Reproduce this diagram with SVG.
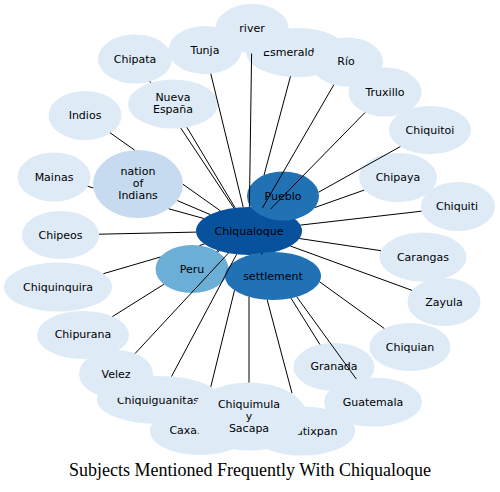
<svg xmlns="http://www.w3.org/2000/svg" width="500" height="492" viewBox="0 0 500 492">
<style>
.n ellipse{fill:#deebf7}
text{font-family:"DejaVu Sans","Liberation Sans",sans-serif;font-size:11px;text-anchor:middle;fill:#000}
.t{font-family:"Liberation Serif","Times New Roman",serif;font-size:18px}
#edges line{stroke:#000;stroke-width:1}
</style>
<rect width="500" height="492" fill="#fff"/>
<g id="nodes">
<g id="n-esmeraldas" class="n"><ellipse cx="297" cy="52.5" rx="50.7" ry="24.5"/><text x="295" y="56">Esmeraldas</text></g>
<g id="n-river" class="n"><ellipse cx="252" cy="28.5" rx="36.5" ry="24.5"/><text x="252" y="32">river</text></g>
<g id="n-tunja" class="n"><ellipse cx="205" cy="50" rx="36.5" ry="24"/><text x="205" y="53.5">Tunja</text></g>
<g id="n-chipata" class="n"><ellipse cx="135" cy="59" rx="37" ry="24.5"/><text x="135" y="63">Chipata</text></g>
<g id="n-rio" class="n"><ellipse cx="347" cy="62" rx="36" ry="24.5"/><text x="346" y="65">Río</text></g>
<g id="n-truxillo" class="n"><ellipse cx="385" cy="92" rx="36.5" ry="24.5"/><text x="385" y="95.5">Truxillo</text></g>
<g id="n-chiquitoi" class="n"><ellipse cx="430" cy="130" rx="41" ry="24"/><text x="430" y="133.5">Chiquitoi</text></g>
<g id="n-chipaya" class="n"><ellipse cx="398" cy="177.5" rx="39" ry="24.5"/><text x="398" y="181">Chipaya</text></g>
<g id="n-chiquiti" class="n"><ellipse cx="458" cy="206.5" rx="37" ry="24.5"/><text x="457" y="210">Chiquiti</text></g>
<g id="n-carangas" class="n"><ellipse cx="423" cy="257" rx="43.5" ry="24.5"/><text x="423" y="260.5">Carangas</text></g>
<g id="n-zayula" class="n"><ellipse cx="444" cy="302" rx="36.5" ry="24"/><text x="444" y="305.5">Zayula</text></g>
<g id="n-chiquian" class="n"><ellipse cx="410" cy="347" rx="40.5" ry="24"/><text x="410" y="350.5">Chiquian</text></g>
<g id="n-granada" class="n"><ellipse cx="334" cy="367" rx="40.5" ry="24"/><text x="334" y="370">Granada</text></g>
<g id="n-guatemala" class="n"><ellipse cx="373" cy="402" rx="49" ry="24.5"/><text x="373" y="405.5">Guatemala</text></g>
<g id="n-chiquiguanitas" class="n"><ellipse cx="159" cy="400" rx="62" ry="24"/><text x="158" y="403.5">Chiquiguanitas</text></g>
<g id="n-caxamarca" class="n"><ellipse cx="200" cy="431" rx="50" ry="24"/><text x="200.5" y="434">Caxamarca</text></g>
<g id="n-ixpan" class="n"><ellipse cx="302" cy="431" rx="53" ry="24.5"/><text x="306" y="434.5">Ahuatixpan</text></g>
<g id="n-chiquimula" class="n"><ellipse cx="249" cy="416.5" rx="58" ry="34"/><text x="249" y="407.5">Chiquimula</text><text x="249" y="419.5">y</text><text x="249" y="431.5">Sacapa</text></g>
<g id="n-velez" class="n"><ellipse cx="116" cy="374" rx="37" ry="24"/><text x="116" y="377.5">Velez</text></g>
<g id="n-chipurana" class="n"><ellipse cx="83" cy="335" rx="46" ry="24"/><text x="83" y="338">Chipurana</text></g>
<g id="n-chiquinquira" class="n"><ellipse cx="58" cy="287" rx="54" ry="24.5"/><text x="58" y="290.5">Chiquinquira</text></g>
<g id="n-chipeos" class="n"><ellipse cx="60.5" cy="235" rx="38.5" ry="24"/><text x="60.5" y="238.5">Chipeos</text></g>
<g id="n-mainas" class="n"><ellipse cx="54" cy="177" rx="36.5" ry="24.5"/><text x="54" y="180.5">Mainas</text></g>
<g id="n-indios" class="n"><ellipse cx="85" cy="115.5" rx="36.5" ry="24.5"/><text x="85" y="118.5">Indios</text></g>
<g id="n-nueva-espana" class="n"><ellipse cx="173" cy="104" rx="45" ry="24.5"/><text x="173" y="101">Nueva</text><text x="173" y="112.5">España</text></g>
<g id="n-nation"><ellipse cx="138" cy="184" rx="45" ry="34" fill="#c6dbef"/><text x="138" y="175">nation</text><text x="138" y="187">of</text><text x="138" y="199">Indians</text></g>
<g id="n-peru"><ellipse cx="192" cy="269" rx="36.5" ry="24" fill="#6baed6"/><text x="192" y="272.5">Peru</text></g>
<g id="n-chiqualoque"><ellipse cx="249" cy="231" rx="53" ry="24" fill="#08519c"/><text x="249" y="234.5">Chiqualoque</text></g>
<g id="n-pueblo"><ellipse cx="283" cy="196" rx="36" ry="24.5" fill="#2171b5"/><text x="283" y="199.5">Pueblo</text></g>
<g id="n-settlement"><ellipse cx="273" cy="276" rx="48" ry="24" fill="#2171b5"/><text x="273" y="279.5">settlement</text></g>
</g>
<g id="edges">
<line x1="261.5" y1="254.5" x2="262.3" y2="252.5"/>
<line x1="217.6" y1="251.9" x2="219.2" y2="250.9"/>
<line x1="177.3" y1="200.6" x2="210.3" y2="214.6"/>
<line x1="186.9" y1="127.3" x2="235.1" y2="207.8"/>
<line x1="149.9" y1="81.4" x2="150.7" y2="82.7"/>
<line x1="180.8" y1="128.1" x2="233.8" y2="208"/>
<line x1="110.1" y1="132.8" x2="134.6" y2="150.1"/>
<line x1="183" y1="184.3" x2="220.4" y2="210.8"/>
<line x1="87.7" y1="186.3" x2="93.3" y2="187.9"/>
<line x1="168.8" y1="208.8" x2="203.8" y2="218.5"/>
<line x1="99" y1="234.2" x2="196.1" y2="232.1"/>
<line x1="103.4" y1="273.7" x2="160.4" y2="257"/>
<line x1="199.5" y1="245.5" x2="204.5" y2="244"/>
<line x1="112.4" y1="316.6" x2="163.9" y2="284.3"/>
<line x1="216.6" y1="251.3" x2="218" y2="250.5"/>
<line x1="135.1" y1="353.5" x2="228.4" y2="253.1"/>
<line x1="171.5" y1="376.5" x2="236.6" y2="254.3"/>
<line x1="210.8" y1="386.8" x2="234.5" y2="290.3"/>
<line x1="249" y1="296.8" x2="249" y2="382.5"/>
<line x1="267.2" y1="299.8" x2="292" y2="393.2"/>
<line x1="291" y1="298.2" x2="319.9" y2="344.5"/>
<line x1="296.8" y1="296.9" x2="356.3" y2="379"/>
<line x1="319.6" y1="281.8" x2="384.3" y2="328.5"/>
<line x1="290.3" y1="246" x2="412.1" y2="290.4"/>
<line x1="299.3" y1="238.5" x2="381" y2="250.7"/>
<line x1="300.4" y1="225.1" x2="421.5" y2="211.2"/>
<line x1="314.7" y1="207.6" x2="364.1" y2="190.1"/>
<line x1="318.6" y1="192.2" x2="400.3" y2="146.6"/>
<line x1="270.5" y1="209.1" x2="365" y2="112.5"/>
<line x1="262.5" y1="207.8" x2="333.8" y2="84.8"/>
<line x1="264" y1="175.2" x2="290.5" y2="76.3"/>
<line x1="249.4" y1="207" x2="251.6" y2="53.5"/>
<line x1="210.8" y1="73.7" x2="243.2" y2="207.1"/>
</g>
<text class="t" x="250" y="476">Subjects Mentioned Frequently With Chiqualoque</text>
</svg>
